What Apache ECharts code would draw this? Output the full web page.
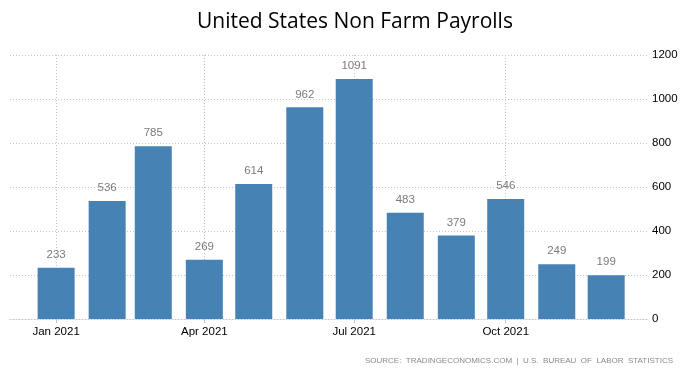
<!DOCTYPE html>
<html>
<head>
<meta charset="utf-8">
<script src="https://cdn.jsdelivr.net/npm/echarts@6/dist/echarts.min.js"></script>
<style>html,body{margin:0;padding:0;background:#fff}#c{width:691px;height:381px}</style>
</head>
<body>
<div id="c"></div>
<script>
const months = ['2021-01-01','2021-02-01','2021-03-01','2021-04-01','2021-05-01','2021-06-01','2021-07-01','2021-08-01','2021-09-01','2021-10-01','2021-11-01','2021-12-01'];
const payrolls = [233, 536, 785, 269, 614, 962, 1091, 483, 379, 546, 249, 199];
const tickDates = ['2021-01-01','2021-04-01','2021-07-01','2021-10-01'];
const monthNames = ['Jan','Feb','Mar','Apr','May','Jun','Jul','Aug','Sep','Oct','Nov','Dec'];
const yTicks = [0, 200, 400, 600, 800, 1000, 1200];

function ts(s){ const p = s.split('-').map(Number); return Date.UTC(p[0], p[1]-1, p[2]); }

const gridColor = '#c4c4c4';
const chart = echarts.init(document.getElementById('c'));
chart.setOption({
  animation: false,
  title: {
    text: 'United States Non Farm Payrolls',
    left: 192, top: 7,
    textStyle: { fontFamily: 'Open Sans', fontWeight: 'normal', fontSize: 21, color: '#000' }
  },
  graphic: [{
    type: 'text', right: 18, top: 357,
    style: { text: 'SOURCE:  TRADINGECONOMICS.COM  |  U.S.  BUREAU  OF  LABOR  STATISTICS', fontFamily: 'Liberation Sans', fontSize: 8, fill: '#8a8a8a' }
  }],
  grid: { left: 10, right: 42, top: 55, bottom: 62 },
  xAxis: {
    type: 'value',
    min: ts('2020-12-04'),
    max: ts('2021-12-27'),
    axisLine: { show: true, lineStyle: { color: gridColor, type: [1, 2] } },
    axisTick: { show: true, length: 4, lineStyle: { color: gridColor }, customValues: tickDates.map(ts) },
    splitLine: { show: true, lineStyle: { color: gridColor, type: [1, 2] } },
    axisLabel: {
      customValues: tickDates.map(ts),
      color: '#000', fontFamily: 'Liberation Sans', fontSize: 11.5, margin: 7,
      formatter: function(v){ const d = new Date(v); return monthNames[d.getUTCMonth()] + ' ' + d.getUTCFullYear(); }
    }
  },
  yAxis: {
    type: 'value', position: 'right', min: 0, max: 1200, interval: 200,
    axisLine: { show: false }, axisTick: { show: false },
    splitLine: { show: true, lineStyle: { color: gridColor, type: [1, 2] } },
    axisLabel: { color: '#000', fontFamily: 'Liberation Sans', fontSize: 11.5, margin: 3,
      formatter: function(v){ return yTicks.indexOf(v) >= 0 ? String(v) : ''; } }
  },
  series: [{
    type: 'bar',
    data: months.map((m, i) => [ts(m), payrolls[i]]),
    barWidth: 37,
    itemStyle: { color: '#4682B4' },
    label: { show: true, position: 'top', distance: 7, color: '#7a7a82', fontFamily: 'Liberation Sans', fontSize: 11.5 }
  }]
});
</script>
</body>
</html>
